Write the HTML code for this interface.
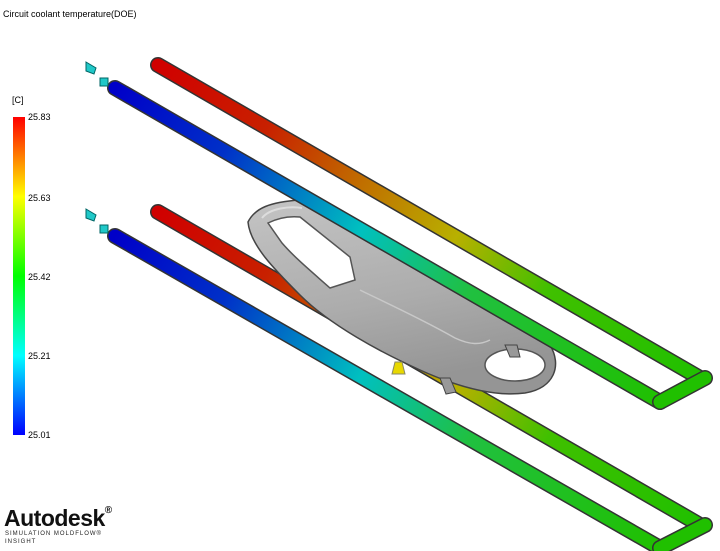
<!DOCTYPE html>
<html><head><meta charset="utf-8"><style>
html,body{margin:0;padding:0;background:#fff;}
body{width:720px;height:551px;overflow:hidden;position:relative;font-family:"Liberation Sans",sans-serif;}
.t{position:absolute;font-size:9px;color:#000;}
</style></head><body>
<svg width="720" height="551" style="position:absolute;left:0;top:0">
<defs>
<linearGradient id="back" gradientUnits="userSpaceOnUse" x1="158" y1="65" x2="700" y2="378">
<stop offset="0" stop-color="#d00000"/><stop offset="0.2" stop-color="#c82000"/><stop offset="0.38" stop-color="#c07000"/><stop offset="0.55" stop-color="#b8b000"/><stop offset="0.72" stop-color="#40c000"/><stop offset="1" stop-color="#20c000"/>
</linearGradient>
<linearGradient id="front" gradientUnits="userSpaceOnUse" x1="115" y1="88" x2="660" y2="402">
<stop offset="0" stop-color="#0000c8"/><stop offset="0.2" stop-color="#0030c8"/><stop offset="0.45" stop-color="#00c0c0"/><stop offset="0.65" stop-color="#20c040"/><stop offset="1" stop-color="#20c000"/>
</linearGradient>
<linearGradient id="back2" gradientUnits="userSpaceOnUse" x1="158" y1="212" x2="700" y2="525">
<stop offset="0" stop-color="#d00000"/><stop offset="0.2" stop-color="#c82000"/><stop offset="0.38" stop-color="#c07000"/><stop offset="0.55" stop-color="#b8b000"/><stop offset="0.72" stop-color="#40c000"/><stop offset="1" stop-color="#20c000"/>
</linearGradient>
<linearGradient id="front2" gradientUnits="userSpaceOnUse" x1="115" y1="236" x2="660" y2="548">
<stop offset="0" stop-color="#0000c8"/><stop offset="0.2" stop-color="#0030c8"/><stop offset="0.45" stop-color="#00c0c0"/><stop offset="0.65" stop-color="#20c040"/><stop offset="1" stop-color="#20c000"/>
</linearGradient>
<linearGradient id="cb" x1="0" y1="0" x2="0" y2="1">
<stop offset="0" stop-color="#ff0000"/><stop offset="0.25" stop-color="#ffff00"/><stop offset="0.5" stop-color="#00ff00"/><stop offset="0.75" stop-color="#00ffff"/><stop offset="1" stop-color="#0000ff"/>
</linearGradient>
<linearGradient id="gray" x1="0" y1="0" x2="0.3" y2="1"><stop offset="0" stop-color="#c4c4c4"/><stop offset="0.6" stop-color="#acacac"/><stop offset="1" stop-color="#959595"/></linearGradient>
</defs>
<g stroke-linecap="round" fill="none">
<line x1="158" y1="65" x2="700" y2="378" stroke="#333" stroke-width="16"/>
<line x1="158" y1="65" x2="700" y2="378" stroke="url(#back)" stroke-width="13"/>
<line x1="158" y1="212" x2="700" y2="525" stroke="#333" stroke-width="16"/>
<line x1="158" y1="212" x2="700" y2="525" stroke="url(#back2)" stroke-width="13"/>
</g>
<path d="M248,222 C255,208 270,202 300,200 C320,203 340,215 400,250 L480,298 C510,315 540,330 550,345 C562,365 555,388 525,393 C495,397 460,388 420,370 C380,352 330,325 300,295 C275,270 250,245 248,222 Z" fill="url(#gray)" stroke="#444" stroke-width="1.5"/>
<path d="M268,223 C280,217 290,216 300,217 L350,257 L355,280 L330,288 C312,272 295,258 282,243 Z" fill="#fff" stroke="#555" stroke-width="1.5"/>
<path d="M262,218 C270,208 290,206 302,208" fill="none" stroke="#ddd" stroke-width="2"/>
<path d="M360,290 C380,300 420,318 455,338 C470,345 480,345 490,340" fill="none" stroke="#c8c8c8" stroke-width="1.5"/>
<ellipse cx="515" cy="365" rx="30" ry="16" fill="#fff" stroke="#555" stroke-width="1.5"/>
<path d="M440,378 l10,0 l6,14 l-10,2 z" fill="#999" stroke="#444"/>
<path d="M505,345 l12,0 l3,12 l-10,0 z" fill="#999" stroke="#444"/>
<path d="M395,362 l7,0 l3,12 l-13,0 z" fill="#e8d800" stroke="#886"/>
<g stroke-linecap="round" fill="none">
<line x1="115" y1="88" x2="660" y2="402" stroke="#333" stroke-width="16"/>
<line x1="115" y1="88" x2="660" y2="402" stroke="url(#front)" stroke-width="13"/>
<line x1="660" y1="402" x2="705" y2="378" stroke="#333" stroke-width="16"/>
<line x1="660" y1="402" x2="705" y2="378" stroke="#20c000" stroke-width="13"/>
<line x1="115" y1="236" x2="660" y2="548" stroke="#333" stroke-width="16"/>
<line x1="115" y1="236" x2="660" y2="548" stroke="url(#front2)" stroke-width="13"/>
<line x1="660" y1="548" x2="705" y2="525" stroke="#333" stroke-width="16"/>
<line x1="660" y1="548" x2="705" y2="525" stroke="#20c000" stroke-width="13"/>
</g>
<g fill="#20c8c8" stroke="#066" stroke-width="1">
<path d="M86,62 l10,6 l-2,6 l-8,-3 z"/><rect x="100" y="78" width="8" height="8"/>
<path d="M86,209 l10,6 l-2,6 l-8,-3 z"/><rect x="100" y="225" width="8" height="8"/>
</g>
<rect x="13" y="117" width="12" height="318" fill="url(#cb)"/>
</svg>
<div class="t" style="left:3px;top:9px">Circuit coolant temperature(DOE)</div>
<div class="t" style="left:12px;top:95px">[C]</div>
<div class="t" style="left:28px;top:112px">25.83</div>
<div class="t" style="left:28px;top:193px">25.63</div>
<div class="t" style="left:28px;top:272px">25.42</div>
<div class="t" style="left:28px;top:351px">25.21</div>
<div class="t" style="left:28px;top:430px">25.01</div>
<div style="position:absolute;left:4px;top:505px;font-size:23px;font-weight:bold;color:#111;letter-spacing:-0.5px">Autodesk<span style="font-size:10px;vertical-align:top">®</span></div>
<div style="position:absolute;left:5px;top:531px;font-size:6px;letter-spacing:1px;color:#222">SIMULATION MOLDFLOW®</div>
<div style="position:absolute;left:5px;top:539px;font-size:6px;letter-spacing:1px;color:#222">INSIGHT</div>
</body></html>
